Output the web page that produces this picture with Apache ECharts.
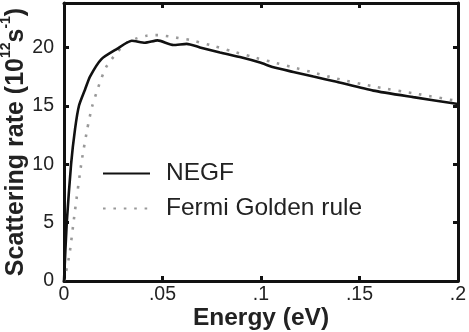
<!DOCTYPE html>
<html>
<head>
<meta charset="utf-8">
<script src="https://cdn.jsdelivr.net/npm/echarts@6/dist/echarts.min.js"></script>
<style>
  html, body { margin: 0; padding: 0; background: #fff; }
  #chart { width: 469px; height: 332px; }
</style>
</head>
<body>
<div id="chart"></div>
<script>
// 数据
const negfEnergy = [0, 0.0014, 0.0036, 0.0056, 0.0076, 0.0107, 0.0132, 0.019, 0.0267, 0.0344, 0.0411, 0.0475, 0.0555, 0.0623, 0.069, 0.0792, 0.0893, 0.0995, 0.1063, 0.1164, 0.1266, 0.1384, 0.157, 0.1773, 0.2]
const negfRate = [0, 5, 10, 13.0, 15, 16.4, 17.5, 19.0, 19.85, 20.57, 20.4, 20.6, 20.2, 20.3, 20.0, 19.56, 19.17, 18.7, 18.3, 17.9, 17.5, 17.05, 16.3, 15.74, 15.15]
const fgrEnergy = [0, 0.0027, 0.0054, 0.009, 0.0118, 0.0142, 0.0174, 0.0191, 0.0213, 0.0242, 0.0276, 0.0318, 0.0365, 0.042, 0.0476, 0.053, 0.058, 0.0636, 0.0741, 0.0846, 0.0953, 0.1058, 0.1161, 0.1266, 0.1371, 0.1587, 0.1799, 0.2]
const fgrRate = [0, 2.2, 5.8, 10.3, 13, 14.9, 16.6, 17.4, 18.3, 19.0, 19.7, 20.4, 20.75, 21.0, 21.05, 20.95, 20.8, 20.65, 20.2, 19.7, 19.2, 18.74, 18.3, 17.85, 17.38, 16.6, 16.0, 15.4]
const seriesNames = ['NEGF', 'Fermi Golden rule']
const xTicks = [0, 0.05, 0.1, 0.15, 0.2]
const yTicks = [0, 5, 10, 15, 20]

const font = 'Liberation Sans, Arial, Helvetica, sans-serif'
const chart = echarts.init(document.getElementById('chart'))

const pair = (xs, ys) => xs.map((x, i) => [x, ys[i]])

// 坐标轴公共样式
const axisLine = { show: true, onZero: false, lineStyle: { color: '#111', width: 3 } }
const axisTick = { show: true, inside: true, length: 5, lineStyle: { color: '#111', width: 3 } }

const option = {
  animation: false,
  grid: { left: 64, right: 11, top: 3, bottom: 51, outerBoundsMode: 'none', containLabel: false },
  legend: {
    left: 97,
    top: 156,
    orient: 'vertical',
    itemWidth: 47,
    itemHeight: 14,
    itemGap: 10,
    data: seriesNames,
    itemStyle: { opacity: 0 },
    textStyle: { fontFamily: font, fontSize: 24.5, color: '#222', lineHeight: 25, padding: [0, 0, 0, 11] }
  },
  xAxis: [
    {
      type: 'value',
      min: 0,
      max: 0.2,
      interval: 0.05,
      axisLine,
      axisTick,
      splitLine: { show: false },
      axisLabel: {
        margin: 4,
        fontFamily: font,
        fontSize: 19.5,
        color: '#222',
        formatter: v => {
          const hit = xTicks.find(t => Math.abs(t - v) < 1e-9)
          if (hit === undefined) return ''
          return hit === 0 ? '0' : String(hit).replace(/^0/, '')
        }
      },
      name: 'Energy (eV)',
      nameLocation: 'middle',
      nameGap: 25,
      nameMoveOverlap: false,
      nameTextStyle: { fontFamily: font, fontSize: 24.5, fontWeight: 'bold', color: '#222', verticalAlign: 'top' }
    },
    {
      type: 'value',
      position: 'top',
      min: 0,
      max: 0.2,
      interval: 0.05,
      axisLine,
      axisTick,
      axisLabel: { show: false },
      splitLine: { show: false }
    }
  ],
  yAxis: [
    {
      type: 'value',
      min: 0,
      max: 23.8,
      interval: 5,
      axisLine,
      axisTick,
      splitLine: { show: false },
      axisLabel: {
        margin: 10,
        fontFamily: font,
        fontSize: 19.5,
        color: '#222',
        formatter: v => (yTicks.indexOf(v) >= 0 ? String(v) : '')
      },
      name: '{b|Scattering rate (10}{s|12}{b|s}{s|-1}{b|)}',
      nameLocation: 'middle',
      nameGap: 35,
      nameMoveOverlap: false,
      nameTextStyle: {
        rich: {
          b: { fontFamily: font, fontSize: 25, fontWeight: 'bold', color: '#222', lineHeight: 30, verticalAlign: 'bottom' },
          s: { fontFamily: font, fontSize: 14, fontWeight: 'bold', color: '#222', lineHeight: 30, verticalAlign: 'top' }
        }
      }
    },
    {
      type: 'value',
      position: 'right',
      min: 0,
      max: 23.8,
      interval: 5,
      axisLine,
      axisTick,
      axisLabel: { show: false },
      splitLine: { show: false }
    }
  ],
  series: [
    {
      name: seriesNames[0],
      type: 'line',
      data: pair(negfEnergy, negfRate),
      showSymbol: false,
      symbol: 'none',
      smooth: 0.2,
      z: 3,
      lineStyle: { color: '#111', width: 2.6 },
      itemStyle: { color: '#111' }
    },
    {
      name: seriesNames[1],
      type: 'line',
      data: pair(fgrEnergy, fgrRate),
      showSymbol: false,
      symbol: 'none',
      smooth: 0.2,
      z: 2,
      lineStyle: { color: '#999', width: 2.6, type: [2.6, 7.8] },
      itemStyle: { color: '#999' }
    }
  ]
}

chart.setOption(option)
</script>
</body>
</html>
